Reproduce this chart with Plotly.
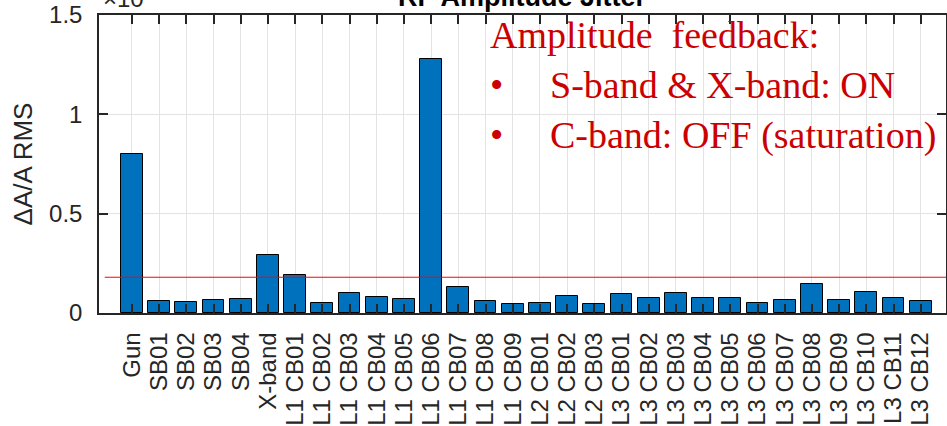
import plotly.graph_objects as go

categories = ["Gun", "SB01", "SB02", "SB03", "SB04", "X-band",
              "L1 CB01", "L1 CB02", "L1 CB03", "L1 CB04", "L1 CB05", "L1 CB06",
              "L1 CB07", "L1 CB08", "L1 CB09",
              "L2 CB01", "L2 CB02", "L2 CB03",
              "L3 CB01", "L3 CB02", "L3 CB03", "L3 CB04", "L3 CB05", "L3 CB06",
              "L3 CB07", "L3 CB08", "L3 CB09", "L3 CB10", "L3 CB11", "L3 CB12"]
jitter = [0.80, 0.060, 0.057, 0.065, 0.069, 0.292,
          0.190, 0.052, 0.100, 0.082, 0.072, 1.278,
          0.129, 0.060, 0.044,
          0.052, 0.084, 0.047,
          0.094, 0.077, 0.099, 0.074, 0.074, 0.050,
          0.064, 0.146, 0.064, 0.104, 0.075, 0.059]
threshold = 0.18
y_ticks = [0, 0.5, 1, 1.5]
y_ticktext = ["0", "0.5", "1", "1.5"]

idx = list(range(len(categories)))
axis_col = "#262626"
font_sans = "Liberation Sans, Arial, sans-serif"
font_serif = "Liberation Serif, Times New Roman, serif"
red_txt = "#cc0000"

fig = go.Figure()
fig.add_trace(go.Bar(x=idx, y=jitter, width=0.8,
                     marker=dict(color="#0072BD", line=dict(color="#000000", width=1)),
                     showlegend=False))
fig.add_trace(go.Scatter(x=[-1, len(categories)], y=[threshold, threshold], mode="lines",
                         line=dict(color="#ff0000", width=1), showlegend=False))

L, R, T, B = 99, 1, 15, 113
W, H = 947, 426
pw, ph = W - L - R, H - T - B

def px(x):
    return (x - L) / pw

def py(y):
    return (H - B - y) / ph

fig.update_layout(
    width=W, height=H,
    margin=dict(l=L, r=R, t=T, b=B, autoexpand=False),
    paper_bgcolor="white", plot_bgcolor="white",
    font=dict(family=font_sans, size=24, color=axis_col),
    bargap=0,
    xaxis=dict(range=[-1.21, 29.93], tickvals=idx, ticktext=categories, tickangle=-90,
               showgrid=True, gridcolor="#e3e3e3", gridwidth=1,
               showline=True, linecolor=axis_col, linewidth=1.5, mirror="allticks",
               ticks="inside", ticklen=9, tickcolor=axis_col, tickwidth=1.5,
               ticklabelstandoff=8, zeroline=False,
               tickfont=dict(size=24, family=font_sans, color=axis_col)),
    yaxis=dict(range=[0, 1.5], tickvals=y_ticks, ticktext=y_ticktext,
               showgrid=True, gridcolor="#e3e3e3", gridwidth=1,
               showline=True, linecolor=axis_col, linewidth=1.5, mirror="allticks",
               ticks="inside", ticklen=9, tickcolor=axis_col, tickwidth=1.5,
               ticklabelstandoff=10, zeroline=False,
               tickfont=dict(size=24, family=font_sans, color=axis_col),
               title=dict(text="ΔA/A RMS", font=dict(size=26, family=font_sans, color=axis_col),
                          standoff=9)),
)

annos = [
    dict(text="<b>RF Amplitude Jitter</b>", x=0.5, y=py(14), xanchor="center", yanchor="bottom",
         font=dict(size=27, family=font_sans, color="#000000")),
    dict(text="×10<sup>-3</sup>", x=px(101), y=py(14), xanchor="left", yanchor="bottom",
         font=dict(size=24, family=font_sans, color=axis_col)),
    dict(text="Amplitude  feedback:", x=px(488), y=py(35), xanchor="left", yanchor="middle",
         font=dict(size=38, family=font_serif, color=red_txt)),
    dict(text="•", x=px(496), y=py(85), xanchor="center", yanchor="middle",
         font=dict(size=38, family=font_serif, color=red_txt)),
    dict(text="S-band & X-band: ON", x=px(548), y=py(85), xanchor="left", yanchor="middle",
         font=dict(size=38, family=font_serif, color=red_txt)),
    dict(text="•", x=px(496), y=py(135), xanchor="center", yanchor="middle",
         font=dict(size=38, family=font_serif, color=red_txt)),
    dict(text="C-band: OFF (saturation)", x=px(548), y=py(135), xanchor="left", yanchor="middle",
         font=dict(size=38, family=font_serif, color=red_txt)),
]
for a in annos:
    fig.add_annotation(xref="paper", yref="paper", showarrow=False, **a)

fig.write_html("out.html")
